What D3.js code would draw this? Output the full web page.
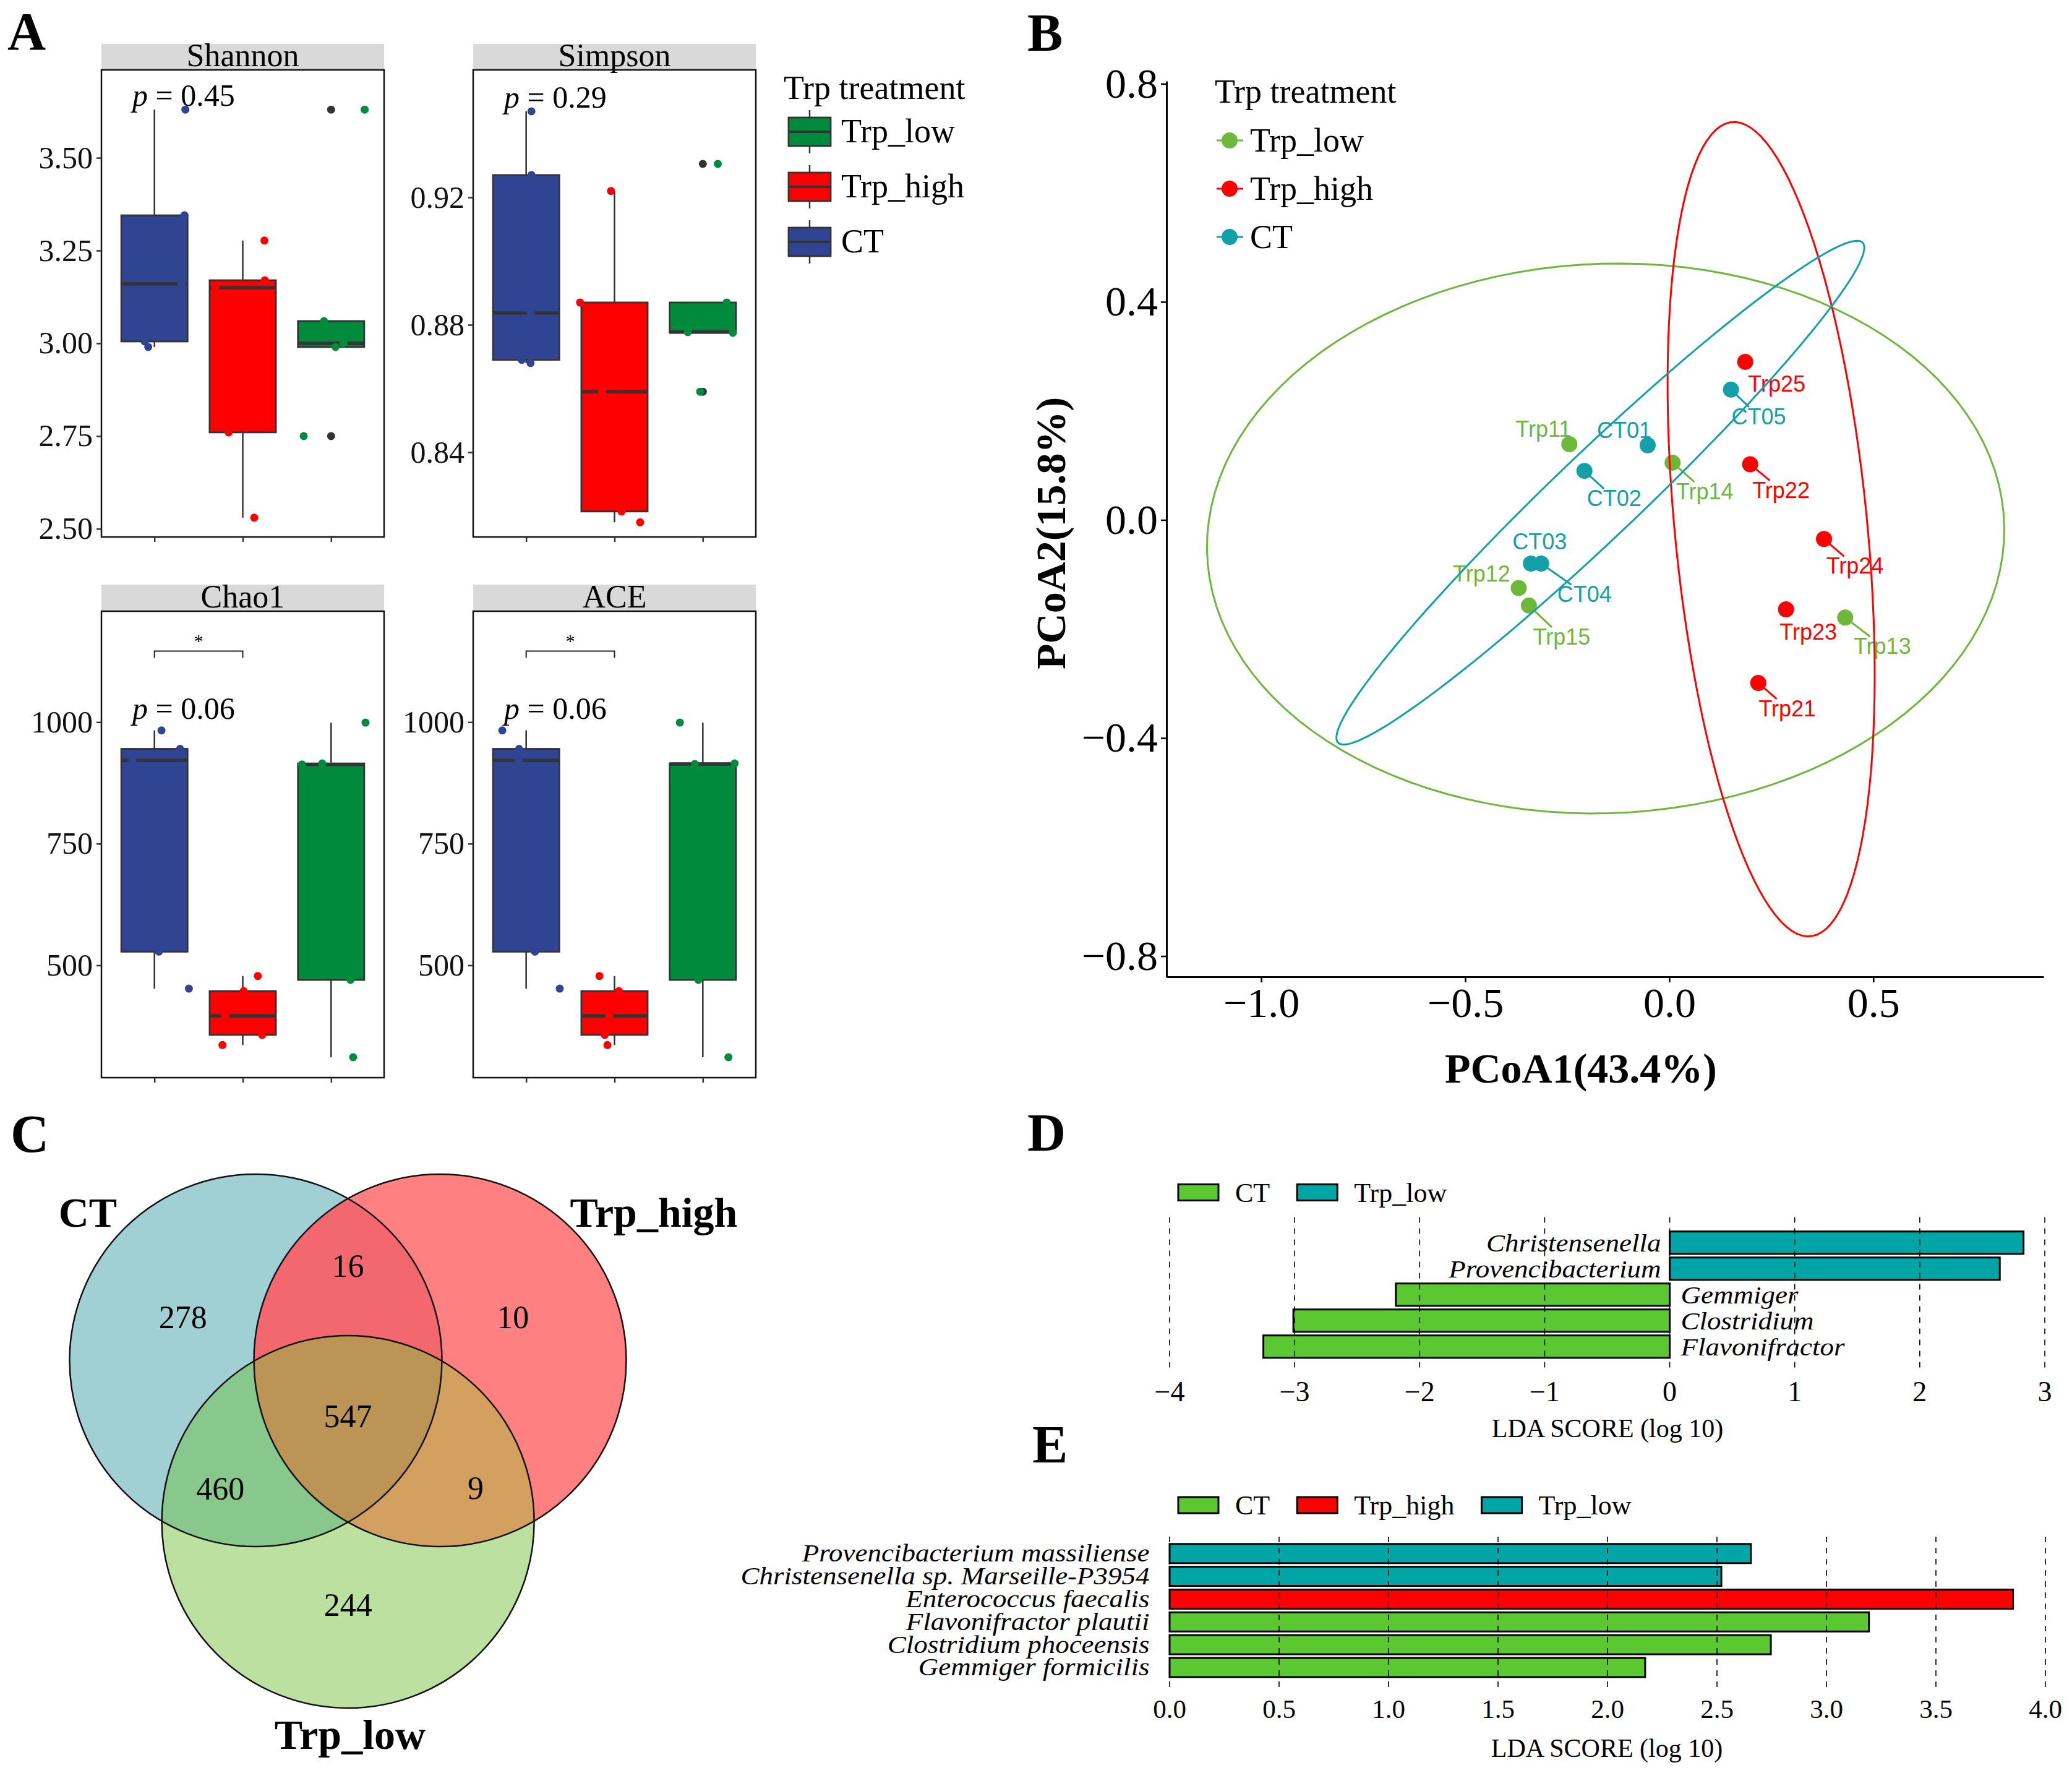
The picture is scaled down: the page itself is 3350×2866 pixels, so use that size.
<!DOCTYPE html>
<html>
<head>
<meta charset="utf-8">
<script src="https://cdn.jsdelivr.net/npm/d3@7"></script>
<style>
  body { margin: 0; background: #fff; }
  svg { display: block; }
</style>
</head>
<body>
<svg id="fig" width="3350" height="2866"></svg>
<script>
// ---------------- data ----------------
const groups = ["CT", "Trp_high", "Trp_low"];
const alphaNames = ["Shannon", "Simpson", "Chao1", "ACE"];
const pValues = ["0.45", "0.29", "0.06", "0.06"];

const shannonCT = [3.63, 3.345, 3.16, 3.005, 2.99];
const shannonHigh = [3.277, 3.17, 3.15, 2.76, 2.53];
const shannonLow = [3.63, 3.06, 3.0, 2.99, 2.75];
const simpsonCT = [0.947, 0.927, 0.8837, 0.869, 0.868];
const simpsonHigh = [0.922, 0.887, 0.859, 0.8214, 0.818];
const simpsonLow = [0.9305, 0.887, 0.8777, 0.8775, 0.859];
const chao1CT = [983, 945, 921, 528, 452];
const chao1High = [478, 447, 396, 357, 336];
const chao1Low = [999, 915, 913, 470, 311];
const aceCT = [983, 945, 921, 528, 452];
const aceHigh = [478, 447, 396, 357, 336];
const aceLow = [999, 915, 914, 470, 311];

// horizontal jitter of each sample, as a share of the group step
const shannonJitter = [[0.35, 0.34, 0.31, -0.11, -0.07], [0.245, 0.25, -0.31, -0.16, 0.13], [0.38, -0.08, 0.14, 0.05, -0.31]];
const simpsonJitter = [[0.06, 0.06, 0.05, -0.05, 0.05], [-0.04, -0.39, -0.14, 0.08, 0.29], [0.17, 0.27, -0.17, 0.34, -0.03]];
const chao1Jitter = [[0.08, 0.29, -0.25, 0.05, 0.39], [0.17, 0.01, -0.2, 0.22, -0.23], [0.39, -0.1, -0.33, 0.22, 0.25]];
const aceJitter = [[-0.27, -0.08, -0.08, 0.1, 0.38], [-0.17, 0.05, -0.06, -0.11, -0.08], [-0.26, 0.36, -0.09, -0.05, 0.29]];

const shannonTicks = [2.50, 2.75, 3.00, 3.25, 3.50];
const simpsonTicks = [0.84, 0.88, 0.92];
const chao1Ticks = [500, 750, 1000];
const shannonDomain = [2.478, 3.737];
const simpsonDomain = [0.8134, 0.96];
const chao1Domain = [269, 1228];

const sigLabel = ["", "", "*", "*"];
const sigBracket = [null, null, 1146, 1146];   // bracket height (data units) CT vs Trp_high

// PCoA
const pcoaSamples = ["Trp11", "Trp12", "Trp13", "Trp14", "Trp15", "Trp21", "Trp22", "Trp23", "Trp24", "Trp25", "CT01", "CT02", "CT03", "CT04", "CT05"];
const pcoaGroup = ["Trp_low", "Trp_low", "Trp_low", "Trp_low", "Trp_low", "Trp_high", "Trp_high", "Trp_high", "Trp_high", "Trp_high", "CT", "CT", "CT", "CT", "CT"];
const pcoa1 = [-0.245, -0.369, 0.431, 0.008, -0.344, 0.218, 0.198, 0.286, 0.379, 0.186, -0.053, -0.208, -0.339, -0.314, 0.151];
const pcoa2 = [0.139, -0.125, -0.179, 0.105, -0.157, -0.299, 0.102, -0.164, -0.035, 0.290, 0.137, 0.090, -0.080, -0.080, 0.239];
const pcoaTicksX = [-1.0, -0.5, 0.0, 0.5];
const pcoaTicksY = [-0.8, -0.4, 0.0, 0.4, 0.8];
const ellipseGroup = ["Trp_low", "Trp_high", "CT"];
const ellipseCx = [-0.156, 0.2495, -0.169];
const ellipseCy = [-0.034, -0.017, 0.050];
const ellipseA = [0.977, 0.753, 0.79];
const ellipseB = [0.504, 0.235, 0.088];
const ellipseAngle = [0.022, 1.705, 0.616];

// Venn
const vennSets = ["CT", "Trp_high", "Trp_low"];
const vennOnly = [278, 10, 244];
const vennPairs = [16, 460, 9];      // CT&Trp_high, CT&Trp_low, Trp_high&Trp_low
const vennAll = 547;

// LEfSe genus
const genusNames = ["Christensenella", "Provencibacterium", "Gemmiger", "Clostridium", "Flavonifractor"];
const genusScore = [2.83, 2.64, -2.19, -3.01, -3.25];
const genusClass = ["Trp_low", "Trp_low", "CT", "CT", "CT"];
const genusTicks = [-4, -3, -2, -1, 0, 1, 2, 3];
const genusLegend = ["CT", "Trp_low"];

// LEfSe species
const speciesNames = ["Provencibacterium massiliense", "Christensenella sp. Marseille-P3954", "Enterococcus faecalis", "Flavonifractor plautii", "Clostridium phoceensis", "Gemmiger formicilis"];
const speciesScore = [2.655, 2.52, 3.852, 3.194, 2.746, 2.172];
const speciesClass = ["Trp_low", "Trp_low", "Trp_high", "CT", "CT", "CT"];
const speciesTicks = [0, 0.5, 1, 1.5, 2, 2.5, 3, 3.5, 4];
const speciesLegend = ["CT", "Trp_high", "Trp_low"];

// ---------------- styles ----------------
const serif = "'Liberation Serif', 'Times New Roman', serif";
const sans = "'Liberation Sans', Arial, sans-serif";
const boxFill = {CT: "#2F4594", Trp_high: "#FF0000", Trp_low: "#008B3C"};
const pcoaColor = {Trp_low: "#6DB83A", Trp_high: "#FF0000", CT: "#14A0A8"};
const ldaColor = {CT: "#5BC832", Trp_low: "#00A6A6", Trp_high: "#FF0000"};

const svg = d3.select("#fig");

// panel letters
[["A", 12, 80], ["B", 1661, 82], ["C", 17, 1862], ["D", 1661, 1860], ["E", 1669, 2364]].forEach(([t, x, y]) => {
  svg.append("text").attr("x", x).attr("y", y)
    .attr("font-family", serif).attr("font-weight", "bold").attr("font-size", 86).text(t);
});

// ================= A: boxplots =================
const alphaValues = [
  [shannonCT, shannonHigh, shannonLow],
  [simpsonCT, simpsonHigh, simpsonLow],
  [chao1CT, chao1High, chao1Low],
  [aceCT, aceHigh, aceLow]
];
const alphaJitter = [shannonJitter, simpsonJitter, chao1Jitter, aceJitter];
const alphaTicks = [shannonTicks, simpsonTicks, chao1Ticks, chao1Ticks];
const alphaDomain = [shannonDomain, simpsonDomain, chao1Domain, chao1Domain];
const alphaFmt = [d3.format(".2f"), d3.format(".2f"), d3.format("d"), d3.format("d")];
const boxLayout = [
  {x0: 164, x1: 621, stripTop: 71, top: 113, bottom: 868},
  {x0: 765, x1: 1222, stripTop: 71, top: 113, bottom: 868},
  {x0: 164, x1: 621, stripTop: 945, top: 988, bottom: 1742},
  {x0: 765, x1: 1222, stripTop: 945, top: 988, bottom: 1742}
];

function boxStats(v) {
  const s = v.slice().sort(d3.ascending);
  const q1 = d3.quantile(s, 0.25), med = d3.quantile(s, 0.5), q3 = d3.quantile(s, 0.75);
  const iqr = q3 - q1;
  const lo = q1 - 1.5 * iqr, hi = q3 + 1.5 * iqr;
  const inside = s.filter(d => d >= lo && d <= hi);
  return {q1, med, q3, lo: d3.min(inside), hi: d3.max(inside), out: s.filter(d => d < lo || d > hi)};
}

alphaNames.forEach((name, k) => {
  const L = boxLayout[k];
  const x = d3.scalePoint().domain(groups).range([L.x0, L.x1]).padding(0.6);
  const step = x.step();
  const y = d3.scaleLinear().domain(alphaDomain[k]).range([L.bottom, L.top]);
  const g = svg.append("g");

  // strip
  g.append("rect").attr("x", L.x0).attr("y", L.stripTop)
    .attr("width", L.x1 - L.x0).attr("height", L.top - L.stripTop).attr("fill", "#D9D9D9");
  g.append("text").attr("x", (L.x0 + L.x1) / 2).attr("y", L.top - 6)
    .attr("text-anchor", "middle").attr("font-family", serif).attr("font-size", 52).text(name);

  // boxes
  groups.forEach((grp, gi) => {
    const s = boxStats(alphaValues[k][gi]);
    const cx = x(grp), w = step * 0.75;
    g.append("line").attr("x1", cx).attr("x2", cx).attr("y1", y(s.hi)).attr("y2", y(s.q3))
      .attr("stroke", "#333").attr("stroke-width", 2.5);
    g.append("line").attr("x1", cx).attr("x2", cx).attr("y1", y(s.q1)).attr("y2", y(s.lo))
      .attr("stroke", "#333").attr("stroke-width", 2.5);
    g.append("rect").attr("x", cx - w / 2).attr("y", y(s.q3))
      .attr("width", w).attr("height", y(s.q1) - y(s.q3))
      .attr("fill", boxFill[grp]).attr("stroke", "#333").attr("stroke-width", 2.8);
    g.append("line").attr("x1", cx - w / 2).attr("x2", cx + w / 2).attr("y1", y(s.med)).attr("y2", y(s.med))
      .attr("stroke", "#333").attr("stroke-width", 5.5);
    s.out.forEach(o => {
      g.append("circle").attr("cx", cx).attr("cy", y(o)).attr("r", 6.5).attr("fill", "#333");
    });
  });

  // jittered points
  groups.forEach((grp, gi) => {
    g.selectAll(null).data(alphaValues[k][gi]).join("circle")
      .attr("cx", (d, i) => x(grp) + alphaJitter[k][gi][i] * step)
      .attr("cy", d => y(d)).attr("r", 6.5).attr("fill", boxFill[grp]);
  });

  // panel border
  g.append("rect").attr("x", L.x0).attr("y", L.top)
    .attr("width", L.x1 - L.x0).attr("height", L.bottom - L.top)
    .attr("fill", "none").attr("stroke", "#111").attr("stroke-width", 2.5);

  // axes
  const ya = g.append("g").attr("transform", `translate(${L.x0},0)`)
    .call(d3.axisLeft(y).tickValues(alphaTicks[k]).tickSize(8).tickPadding(6).tickFormat(alphaFmt[k]));
  ya.select(".domain").remove();
  ya.selectAll("line").attr("stroke", "#333").attr("stroke-width", 2.5);
  ya.selectAll("text").attr("font-family", serif).attr("font-size", 50).attr("fill", "#111");
  const xa = g.append("g").attr("transform", `translate(0,${L.bottom})`)
    .call(d3.axisBottom(x).tickSize(8).tickFormat(""));
  xa.select(".domain").remove();
  xa.selectAll("line").attr("stroke", "#333").attr("stroke-width", 2.5);

  // p label
  const ymax = d3.max(alphaValues[k].flat());
  const pt = g.append("text").attr("x", x(groups[0]) - 0.25 * step).attr("y", y(ymax) - 6)
    .attr("font-family", serif).attr("font-size", 50);
  pt.append("tspan").attr("font-style", "italic").text("p");
  pt.append("tspan").text(" = " + pValues[k]);

  // significance bracket
  if (sigBracket[k] !== null) {
    const by = y(sigBracket[k]);
    const xa1 = x(groups[0]), xa2 = x(groups[1]);
    g.append("path").attr("d", `M${xa1},${by + 11}V${by}H${xa2}V${by + 11}`)
      .attr("fill", "none").attr("stroke", "#222").attr("stroke-width", 2);
    g.append("text").attr("x", (xa1 + xa2) / 2).attr("y", by - 6)
      .attr("text-anchor", "middle").attr("font-family", serif).attr("font-size", 30).text(sigLabel[k]);
  }
});

// A legend
(() => {
  const g = svg.append("g");
  g.append("text").attr("x", 1267).attr("y", 160).attr("font-family", serif).attr("font-size", 54).text("Trp treatment");
  ["Trp_low", "Trp_high", "CT"].forEach((grp, i) => {
    const cy = 213 + i * 89, cx = 1309;
    g.append("line").attr("x1", cx).attr("x2", cx).attr("y1", cy - 35).attr("y2", cy + 35)
      .attr("stroke", "#333").attr("stroke-width", 2.5);
    g.append("rect").attr("x", 1275).attr("y", cy - 23).attr("width", 68).attr("height", 46)
      .attr("fill", boxFill[grp]).attr("stroke", "#333").attr("stroke-width", 2.8);
    g.append("line").attr("x1", 1275).attr("x2", 1343).attr("y1", cy).attr("y2", cy)
      .attr("stroke", "#333").attr("stroke-width", 4);
    g.append("text").attr("x", 1360).attr("y", cy + 17).attr("font-family", serif).attr("font-size", 54).text(grp);
  });
})();

// ================= B: PCoA =================
(() => {
  const g = svg.append("g");
  const x = d3.scaleLinear().domain([-1.232, 0.917]).range([1886, 3304]);
  const y = d3.scaleLinear().domain([-0.838, 0.805]).range([1579, 131]);

  const ya = g.append("g").attr("transform", "translate(1886,0)")
    .call(d3.axisLeft(y).tickValues(pcoaTicksY).tickSize(9).tickPadding(5).tickSizeOuter(0).tickFormat(d3.format(".1f")));
  const xa = g.append("g").attr("transform", "translate(0,1579)")
    .call(d3.axisBottom(x).tickValues(pcoaTicksX).tickSize(9).tickPadding(8).tickSizeOuter(0).tickFormat(d3.format(".1f")));
  [ya, xa].forEach(a => {
    a.select(".domain").attr("stroke", "#000").attr("stroke-width", 3);
    a.selectAll(".tick line").attr("stroke", "#000").attr("stroke-width", 2.5);
    a.selectAll("text").attr("font-family", serif).attr("font-size", 68).attr("fill", "#000");
  });

  g.append("text").attr("x", 2556).attr("y", 1750).attr("text-anchor", "middle")
    .attr("font-family", serif).attr("font-weight", "bold").attr("font-size", 68).text("PCoA1(43.4%)");
  g.append("text").attr("transform", "translate(1722,862) rotate(-90)").attr("text-anchor", "middle")
    .attr("font-family", serif).attr("font-weight", "bold").attr("font-size", 68).text("PCoA2(15.8%)");

  const segG = g.append("g");
  const pointG = g.append("g");
  const labelG = g.append("g");

  // points
  pointG.selectAll("circle").data(pcoaSamples).join("circle")
    .attr("cx", (d, i) => x(pcoa1[i])).attr("cy", (d, i) => y(pcoa2[i]))
    .attr("r", 13).attr("fill", (d, i) => pcoaColor[pcoaGroup[i]]);

  // repelled labels (offset of label centre from the point, px)
  const labelOff = [[-42, -25], [-60, -24], [60, 46], [52, 46], [53, 50], [47, 41], [50, 41], [36, 36], [50, 43], [51, 35], [-38, -25], [48, 44], [14, -36], [70, 49], [45, 43]];
  pcoaSamples.forEach((s, i) => {
    const px = x(pcoa1[i]), py = y(pcoa2[i]);
    const lx = px + labelOff[i][0], ly = py + labelOff[i][1];
    const t = labelG.append("text").attr("x", lx).attr("y", ly + 13).attr("text-anchor", "middle")
      .attr("font-family", sans).attr("font-size", 36).attr("fill", pcoaColor[pcoaGroup[i]]).text(s);
    const hw = t.node().getComputedTextLength() / 2 + 2, hh = 15;
    // nearest point of the label box
    const nx = Math.max(lx - hw, Math.min(px, lx + hw));
    const ny = Math.max(ly - hh, Math.min(py, ly + hh));
    const gap = Math.hypot(nx - px, ny - py);
    if (gap > 25) {
      const dx = lx - px, dy = ly - py;
      const tx = Math.abs(dx) > 0 ? (Math.abs(dx) - hw) / Math.abs(dx) : 0;
      const ty = Math.abs(dy) > 0 ? (Math.abs(dy) - hh) / Math.abs(dy) : 0;
      const tt = Math.min(1, Math.max(0, tx, ty));
      segG.append("line").attr("x1", px).attr("y1", py).attr("x2", px + dx * tt).attr("y2", py + dy * tt)
        .attr("stroke", pcoaColor[pcoaGroup[i]]).attr("stroke-width", 3);
    }
  });

  // confidence ellipses
  const line = d3.line().curve(d3.curveLinearClosed);
  ellipseGroup.forEach((grp, k) => {
    const th = ellipseAngle[k], a = ellipseA[k], b = ellipseB[k];
    const pts = d3.range(0, 2 * Math.PI, Math.PI / 60).map(t => {
      const ex = ellipseCx[k] + a * Math.cos(t) * Math.cos(th) - b * Math.sin(t) * Math.sin(th);
      const ey = ellipseCy[k] + a * Math.cos(t) * Math.sin(th) + b * Math.sin(t) * Math.cos(th);
      return [x(ex), y(ey)];
    });
    g.append("path").attr("d", line(pts)).attr("fill", "none")
      .attr("stroke", pcoaColor[grp]).attr("stroke-width", 3);
  });

  // legend
  g.append("text").attr("x", 1964).attr("y", 166).attr("font-family", serif).attr("font-size", 54).text("Trp treatment");
  ["Trp_low", "Trp_high", "CT"].forEach((grp, i) => {
    const cy = 227 + i * 78;
    g.append("line").attr("x1", 1967).attr("x2", 2010).attr("y1", cy).attr("y2", cy)
      .attr("stroke", pcoaColor[grp]).attr("stroke-width", 3);
    g.append("circle").attr("cx", 1988).attr("cy", cy).attr("r", 13).attr("fill", pcoaColor[grp]);
    g.append("text").attr("x", 2021).attr("y", cy + 18).attr("font-family", serif).attr("font-size", 54).text(grp);
  });
})();

// ================= C: Venn =================
(() => {
  const g = svg.append("g");
  const r = 301;
  const centers = [[413.5, 2199], [711.5, 2199], [562.6, 2460]];
  const onlyFill = ["#A1D0D4", "#FF8080", "#BCE0A0"];
  const defs = svg.append("defs");
  centers.forEach((c, i) => {
    defs.append("clipPath").attr("id", "vclip" + i)
      .append("circle").attr("cx", c[0]).attr("cy", c[1]).attr("r", r);
  });
  centers.forEach((c, i) => {
    g.append("circle").attr("cx", c[0]).attr("cy", c[1]).attr("r", r).attr("fill", onlyFill[i]);
  });
  // pair intersections
  g.append("circle").attr("cx", centers[1][0]).attr("cy", centers[1][1]).attr("r", r)
    .attr("clip-path", "url(#vclip0)").attr("fill", "#F2686E");
  g.append("circle").attr("cx", centers[2][0]).attr("cy", centers[2][1]).attr("r", r)
    .attr("clip-path", "url(#vclip0)").attr("fill", "#88C88C");
  g.append("circle").attr("cx", centers[2][0]).attr("cy", centers[2][1]).attr("r", r)
    .attr("clip-path", "url(#vclip1)").attr("fill", "#D4A060");
  g.append("g").attr("clip-path", "url(#vclip0)")
    .append("circle").attr("cx", centers[2][0]).attr("cy", centers[2][1]).attr("r", r)
    .attr("clip-path", "url(#vclip1)").attr("fill", "#BC9456");
  centers.forEach(c => {
    g.append("circle").attr("cx", c[0]).attr("cy", c[1]).attr("r", r)
      .attr("fill", "none").attr("stroke", "#111").attr("stroke-width", 2.5);
  });

  const G = [d3.mean(centers, c => c[0]), d3.mean(centers, c => c[1])];
  const unit = (dx, dy) => { const l = Math.hypot(dx, dy); return [dx / l, dy / l]; };
  const num = (v, px, py) => g.append("text").attr("x", px).attr("y", py + 17).attr("text-anchor", "middle")
    .attr("font-family", serif).attr("font-size", 52).text(v);
  vennOnly.forEach((v, i) => {
    const u = unit(centers[i][0] - G[0], centers[i][1] - G[1]);
    num(v, G[0] + 309 * u[0], G[1] + 309 * u[1]);
  });
  // pair i excludes set: CT&High -> Low(2), CT&Low -> High(1), High&Low -> CT(0)
  [2, 1, 0].forEach((ex, i) => {
    const u = unit(G[0] - centers[ex][0], G[1] - centers[ex][1]);
    num(vennPairs[i], G[0] + 239 * u[0], G[1] + 239 * u[1]);
  });
  num(vennAll, G[0], G[1] + 4);

  const lab = (t, px, py) => g.append("text").attr("x", px).attr("y", py + 22).attr("text-anchor", "middle")
    .attr("font-family", serif).attr("font-weight", "bold").attr("font-size", 68).text(t);
  lab(vennSets[0], 142, 1961);
  lab(vennSets[1], 1057, 1961);
  lab(vennSets[2], 566, 2805);
})();

// ================= D / E: LEfSe bars =================
function legendRow(g, names, x0, cy) {
  let xx = x0;
  names.forEach(n => {
    g.append("rect").attr("x", xx).attr("y", cy - 13).attr("width", 65).attr("height", 26)
      .attr("fill", ldaColor[n]).attr("stroke", "#000").attr("stroke-width", 3);
    const t = g.append("text").attr("x", xx + 92).attr("y", cy + 15)
      .attr("font-family", serif).attr("font-size", 44).text(n);
    xx += 92 + t.node().getComputedTextLength() + 44;
  });
}

function gridAndTicks(g, x, ticks, fmt, gy0, gy1, labY, fs) {
  ticks.forEach(t => {
    g.append("line").attr("x1", x(t)).attr("x2", x(t)).attr("y1", gy0).attr("y2", gy1)
      .attr("stroke", "#000").attr("stroke-width", 1.6).attr("stroke-dasharray", "9,9");
  });
  g.selectAll(null).data(ticks).join("text")
    .attr("x", d => x(d)).attr("y", labY + fs * 0.33).attr("text-anchor", "middle")
    .attr("font-family", serif).attr("font-size", fs).text(d => fmt(d));
}

// D
(() => {
  const g = svg.append("g");
  const x = d3.scaleLinear().domain([-4, 3]).range([1891, 3306]);
  const y = d3.scaleBand().domain(genusNames).range([1984.8, 2200.7]).padding(0.14);
  legendRow(g, genusLegend, 1905, 1927.5);
  genusNames.forEach((n, i) => {
    const v = genusScore[i];
    g.append("rect").attr("x", Math.min(x(0), x(v))).attr("y", y(n))
      .attr("width", Math.abs(x(v) - x(0))).attr("height", y.bandwidth())
      .attr("fill", ldaColor[genusClass[i]]).attr("stroke", "#000").attr("stroke-width", 3);
    const t = g.append("text").attr("x", v > 0 ? x(0) - 14 : x(0) + 18).attr("y", y(n) + y.bandwidth() / 2 + 14)
      .attr("text-anchor", v > 0 ? "end" : "start")
      .attr("font-family", serif).attr("font-style", "italic").attr("font-size", 45).text(n);
    // same width, slightly shorter glyphs (condensed as in the source)
    const w = t.node().getComputedTextLength();
    t.attr("font-size", 41).attr("textLength", w).attr("lengthAdjust", "spacingAndGlyphs");
  });
  gridAndTicks(g, x, genusTicks, d3.format("d"), 1967.5, 2217.5, 2249.6, 46);
  g.append("text").attr("x", 2599).attr("y", 2308.6 + 14).attr("text-anchor", "middle")
    .attr("font-family", serif).attr("font-size", 42).text("LDA SCORE (log 10)");
})();

// E
(() => {
  const g = svg.append("g");
  const x = d3.scaleLinear().domain([0, 4]).range([1891, 3307]);
  const y = d3.scaleBand().domain(speciesNames).range([2489.9, 2716.8]).padding(0.16);
  legendRow(g, speciesLegend, 1905, 2433);
  speciesNames.forEach((n, i) => {
    const v = speciesScore[i];
    g.append("rect").attr("x", x(0)).attr("y", y(n))
      .attr("width", x(v) - x(0)).attr("height", y.bandwidth())
      .attr("fill", ldaColor[speciesClass[i]]).attr("stroke", "#000").attr("stroke-width", 3);
    const t = g.append("text").attr("x", 1858.6).attr("y", y(n) + y.bandwidth() / 2 + 13)
      .attr("text-anchor", "end")
      .attr("font-family", serif).attr("font-style", "italic").attr("font-size", 45).text(n);
    const w = t.node().getComputedTextLength();
    t.attr("font-size", 39).attr("textLength", w).attr("lengthAdjust", "spacingAndGlyphs");
  });
  gridAndTicks(g, x, speciesTicks, d3.format(".1f"), 2484, 2728, 2762.5, 43);
  g.append("text").attr("x", 2598).attr("y", 2825.7 + 14).attr("text-anchor", "middle")
    .attr("font-family", serif).attr("font-size", 42).text("LDA SCORE (log 10)");
})();
</script>
</body>
</html>
